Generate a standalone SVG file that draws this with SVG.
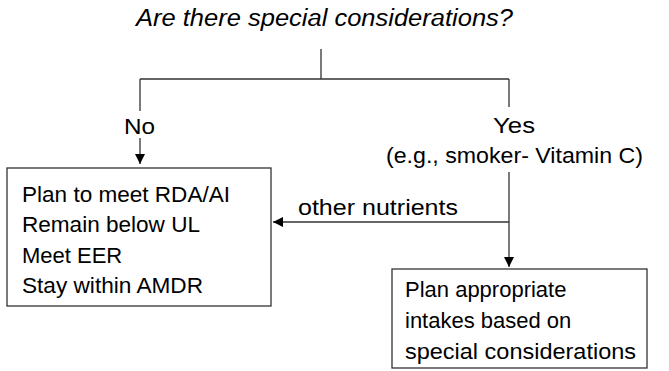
<svg xmlns="http://www.w3.org/2000/svg" width="669" height="371" viewBox="0 0 669 371">
<defs>
<style>
.t{font-family:"Liberation Sans",Arial,Helvetica,sans-serif;font-size:22px;fill:#000}
.ti{font-style:italic;font-size:23px}
.ln{stroke:#333;stroke-width:1.3;fill:none}
.box{stroke:#333;stroke-width:1.3;fill:#fff}
</style>
<marker id="ah" markerWidth="10" markerHeight="10" refX="10" refY="5" orient="auto" markerUnits="userSpaceOnUse" viewBox="0 0 10 10">
<path d="M0,0 L10,5 L0,10 Z" fill="#000"/>
</marker>
</defs>
<rect width="669" height="371" fill="#fff"/>
<g id="question">
<text class="t ti" x="136" y="26" textLength="377" lengthAdjust="spacingAndGlyphs">Are there special considerations?</text>
</g>
<g id="connectors">
<path class="ln" d="M321,49 V79 M140,79 H509 M140,79 V111 M509,79 V107"/>
<path class="ln" d="M140,138 V164" marker-end="url(#ah)"/>
<path class="ln" d="M509,172 V267" marker-end="url(#ah)"/>
<path class="ln" d="M509,222 H273" marker-end="url(#ah)"/>
<text class="t" x="124" y="134" textLength="31" lengthAdjust="spacingAndGlyphs">No</text>
<text class="t" x="493" y="133" textLength="42" lengthAdjust="spacingAndGlyphs">Yes</text>
<text class="t" x="386" y="163" textLength="257" lengthAdjust="spacingAndGlyphs">(e.g., smoker- Vitamin C)</text>
<text class="t" x="298" y="215" textLength="160" lengthAdjust="spacingAndGlyphs">other nutrients</text>
</g>
<g id="standard-plan">
<rect class="box" x="7" y="168" width="264" height="138"/>
<text class="t" x="22" y="202" textLength="208" lengthAdjust="spacingAndGlyphs">Plan to meet RDA/AI</text>
<text class="t" x="22" y="232" textLength="178" lengthAdjust="spacingAndGlyphs">Remain below UL</text>
<text class="t" x="22" y="263">Meet EER</text>
<text class="t" x="22" y="293" textLength="181" lengthAdjust="spacingAndGlyphs">Stay within AMDR</text>
</g>
<g id="special-plan">
<rect class="box" x="392" y="269" width="255" height="99"/>
<text class="t" x="405" y="297">Plan appropriate</text>
<text class="t" x="405" y="328">intakes based on</text>
<text class="t" x="405" y="359" textLength="231" lengthAdjust="spacingAndGlyphs">special considerations</text>
</g>
</svg>
